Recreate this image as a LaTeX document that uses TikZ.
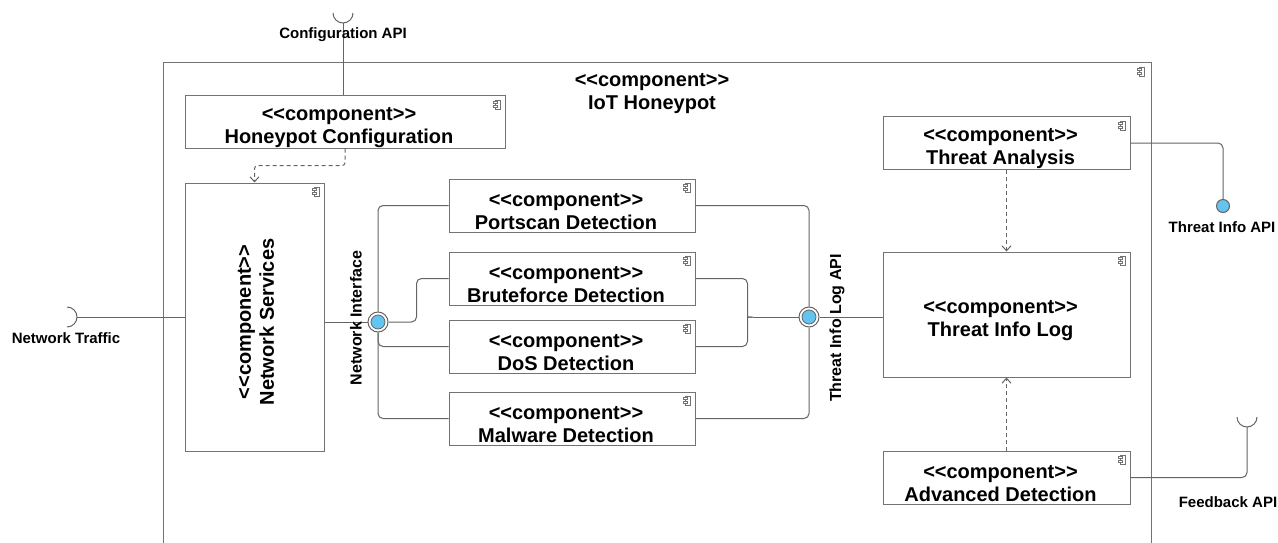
\documentclass[tikz,border=0pt]{standalone}
\usepackage{fontspec}
\setmainfont{Liberation Sans}[Ligatures=TeXOff]
\usetikzlibrary{arrows.meta}
\definecolor{lg}{RGB}{100,100,100}
\definecolor{bg}{RGB}{115,115,115}
\definecolor{portblue}{RGB}{100,196,240}
\newcommand\comptext[1]{\rule{0pt}{25pt}<<component>>\hspace*{12pt}\\#1\hspace*{12pt}}
\begin{document}
\begin{tikzpicture}[x=1pt,y=-1pt,
  comp/.style={draw=bg, line width=1pt, fill=white, align=center, inner sep=0pt,
    font=\bfseries\fontsize{20}{23}\selectfont},
  conn/.style={draw=lg, line width=1pt, rounded corners=5pt},
  dep/.style={draw=lg, line width=1pt, dash pattern=on 4pt off 3pt, rounded corners=3pt,
    -{Straight Barb[length=5pt,width=9pt]}},
  lbl/.style={font=\bfseries\fontsize{15}{18}\selectfont, inner sep=0pt},
  rlbl/.style={font=\bfseries\fontsize{16}{18}\selectfont, inner sep=0pt, rotate=90},
  port/.style={circle, draw=lg, line width=1pt, fill=white, minimum size=20pt, inner sep=0pt,
    path picture={\draw[lg, line width=0.8pt, fill=portblue] (path picture bounding box.center) circle[radius=7pt];}},
  compicon/.pic={
    \draw[bg, line width=0.6pt, fill=white] (-2.5,-4.5) rectangle (3,4.5);
    \draw[bg, line width=0.6pt, fill=white] (-4.5,-3) rectangle (-0.5,-1);
    \draw[bg, line width=0.6pt, fill=white] (-4.5,1) rectangle (-0.5,3);}
]
\useasboundingbox (0,0) rectangle (1278,543);

% outer component
\node[draw=bg, line width=1pt, minimum width=988pt, minimum height=500pt, inner sep=0pt] (iot) at (657,313) {};
\node[align=center, inner sep=0pt, font=\bfseries\fontsize{20}{23}\selectfont] (iottitle) at (652,94) {<<component>>\\IoT Honeypot};
\path ([xshift=-10pt,yshift=-9pt]iot.north east) pic{compicon};

% components
\node[comp, minimum width=320pt, minimum height=52pt] (hc) at (345,122) {\comptext{Honeypot Configuration}};
\node[comp, minimum width=139pt, minimum height=268pt] (ns) at (254.5,317) {};
\node[rotate=90, align=center, inner sep=0pt, font=\bfseries\fontsize{20}{23}\selectfont] (nstxt) at (256,322) {<<component>>\\Network Services};
\node[comp, minimum width=246pt, minimum height=53pt] (ps) at (572,205.5) {\comptext{Portscan Detection}};
\node[comp, minimum width=246pt, minimum height=53pt] (bf) at (572,278.5) {\comptext{Bruteforce Detection}};
\node[comp, minimum width=246pt, minimum height=53pt] (dos) at (572,346.5) {\comptext{DoS Detection}};
\node[comp, minimum width=246pt, minimum height=53pt] (mw) at (572,418.5) {\comptext{Malware Detection}};
\node[comp, minimum width=247pt, minimum height=52pt] (ta) at (1006.5,143) {\comptext{Threat Analysis}};
\node[comp, minimum width=247pt, minimum height=125pt] (til) at (1006.5,314.5) {\comptext{Threat Info Log}};
\node[comp, minimum width=247pt, minimum height=53pt] (ad) at (1006.5,477.5) {\comptext{Advanced Detection}};
\foreach \n in {hc,ns,ps,bf,dos,mw,ta,til,ad}
  \path ([xshift=-8pt,yshift=-9pt]\n.north east) pic{compicon};

% ports
\node[port] (lport) at (378,322) {};
\node[port] (rport) at (809,317) {};
\coordinate (jn) at ([xshift=-46pt]rport.west);

% connectors left
\draw[conn] (ns.east |- lport.west) -- (lport.west);
\draw[conn] (lport.north) |- (ps.west);
\draw[conn] (lport.east) -| ([xshift=-32pt]bf.west) -- (bf.west);
\draw[conn] (lport.south) |- (dos.west);
\draw[conn] (lport.south) |- (mw.west);
% connectors right
\draw[conn] (ps.east) -| (rport.north);
\draw[conn] (mw.east) -| (rport.south);
\draw[conn] (bf.east) -| ([xshift=-5pt,yshift=5pt]jn) .. controls ([xshift=-5pt]jn) .. (jn);
\draw[conn] (dos.east) -| ([xshift=-5pt,yshift=-5pt]jn) .. controls ([xshift=-5pt]jn) .. (jn);
\draw[conn] (jn) -- (rport.west);
\draw[conn] (rport.east) -- (rport.east -| til.west);

% dependencies
\draw[dep] (hc.south) -- ([yshift=-17pt]hc.south) -| (ns.north);
\draw[dep] (ta.south) -- (til.north);
\draw[dep] (ad.north) -- (til.south);

% Configuration API
\coordinate (capi) at (343,23);
\draw[conn] (capi) -- (capi |- hc.north);
\draw[conn] ([xshift=-10pt,yshift=10pt]capi) arc[start angle=180,end angle=360,radius=10pt];
\node[lbl] (capilbl) at (343,35) {Configuration API};

% Network Traffic
\coordinate (ntr) at (77,317);
\draw[conn] (ntr) -- (ntr -| ns.west);
\draw[conn] ([xshift=-10pt,yshift=10pt]ntr) arc[start angle=90,end angle=-90,radius=10pt];
\node[lbl] (ntrlbl) at (66,338) {Network Traffic};

% Threat Info API
\node[circle, draw=lg, fill=portblue, minimum size=13pt, inner sep=0pt, line width=1pt] (tapi) at (1223,206) {};
\draw[conn] (ta.east) -| (tapi.north);
\node[lbl] (tapilbl) at (1222,227) {Threat Info API};

% Feedback API
\coordinate (fb) at (1247,427);
\draw[conn] (ad.east) -| (fb);
\draw[conn] ([xshift=-10pt,yshift=10pt]fb) arc[start angle=180,end angle=360,radius=10pt];
\node[lbl] (fblbl) at (1228,502) {Feedback API};

% rotated interface labels
\node[rlbl] (nilbl) at (356,318) {Network Interface};
\node[rlbl] (tillbl) at (837,328) {Threat Info Log API};
\end{tikzpicture}
\end{document}
